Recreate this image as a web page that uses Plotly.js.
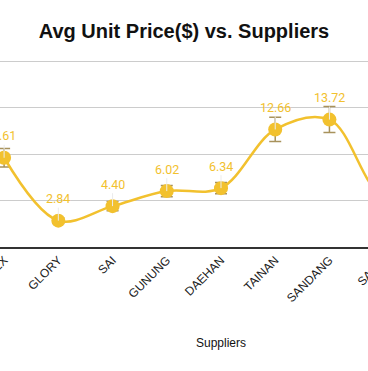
<!DOCTYPE html>
<html>
<head>
<meta charset="utf-8">
<script src="https://cdn.plot.ly/plotly-3.0.1.min.js"></script>
<style>
html,body{margin:0;padding:0;overflow:hidden;width:368px;height:371px;background:#fff;}
#wrap{position:absolute;left:-100px;top:0;width:600px;height:371px;}
</style>
</head>
<body>
<div id="wrap"></div>
<script>
const suppliers = ["APEX", "GLORY", "SAI", "GUNUNG", "DAEHAN", "TAINAN", "SANDANG", "SAMIL", "SUNRISE"];
const avgPrice = [9.61, 2.84, 4.40, 6.02, 6.34, 12.66, 13.72, 5.4, 6.1];
const errPrice = [1.0, 0.3, 0.5, 0.6, 0.6, 1.3, 1.4, 0.8, 0.6];
const yTicks = [0, 5, 10, 15, 20];

const gold = "#F2C12E";

const trace = {
  type: "scatter",
  mode: "lines+markers",
  x: suppliers,
  y: avgPrice,
  line: {shape: "spline", smoothing: 1, color: gold, width: 2.5},
  marker: {size: 14, color: gold},
  error_y: {type: "data", array: errPrice, visible: true, color: "#A8925C", thickness: 1.5, width: 6},
  hoverinfo: "none"
};

const annotations = suppliers.map((s, i) => ({
  x: s, y: avgPrice[i], xref: "x", yref: "y",
  text: avgPrice[i].toFixed(2),
  showarrow: true, arrowhead: 0, arrowwidth: 1, arrowcolor: "#ececec",
  ax: 0, ay: -22,
  font: {family: "Roboto, Arial, sans-serif", size: 12.5, color: gold}
}));

const layout = {
  width: 600, height: 371,
  margin: {l: 77, r: 35, t: 52, b: 124},
  paper_bgcolor: "#fff", plot_bgcolor: "#fff",
  title: {
    text: "<b>Avg Unit Price($) vs. Suppliers</b>",
    xref: "container", x: 284/600, xanchor: "center",
    yref: "container", y: 1 - 31/371, yanchor: "middle",
    font: {family: "Liberation Sans, Arial, sans-serif", size: 20, color: "#111"}
  },
  xaxis: {
    type: "category",
    range: [-0.5, suppliers.length - 0.5],
    tickangle: -45,
    tickfont: {family: "Liberation Sans, Arial, sans-serif", size: 12, color: "#222"},
    showline: true, linecolor: "#333", linewidth: 1.5,
    showgrid: false, ticks: "",
    title: {text: "Suppliers", standoff: 34, font: {family: "Liberation Sans, Arial, sans-serif", size: 12, color: "#111"}}
  },
  yaxis: {
    range: [0, 21],
    tickvals: yTicks,
    showgrid: true, gridcolor: "#cccccc", gridwidth: 1,
    zeroline: false,
    title: {text: "Avg Unit Price($)"}
  },
  annotations: annotations,
  showlegend: false
};

Plotly.newPlot("wrap", [trace], layout, {displayModeBar: false, staticPlot: true});
</script>
</body>
</html>
